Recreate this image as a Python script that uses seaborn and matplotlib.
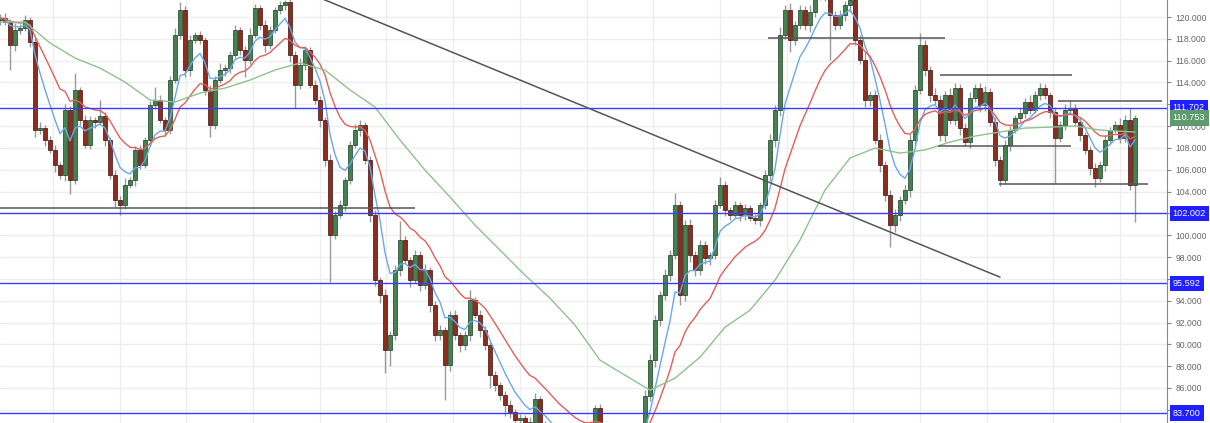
import numpy as np
import pandas as pd
import seaborn as sns
import matplotlib.pyplot as plt
from matplotlib.transforms import blended_transform_factory

# candle closes (open = previous close)
first_open = 119.70
closes = [
    119.91, 119.54, 117.43, 118.81, 118.99, 119.73, 117.71, 109.64, 109.82, 108.72,
    107.81, 106.43, 105.51, 111.47, 105.05, 113.31, 110.56, 108.26, 110.56, 110.37,
    110.92, 108.72, 105.51, 103.22, 102.76, 104.60, 105.05, 107.81, 106.43, 108.72,
    111.93, 112.39, 110.56, 109.64, 114.22, 118.35, 120.64, 115.14, 117.89, 118.35,
    117.89, 113.31, 110.10, 114.22, 115.14, 115.30, 116.52, 118.81, 116.98, 116.06,
    118.35, 120.83, 119.27, 117.43, 118.81, 120.64, 121.10, 121.38, 116.52, 113.77,
    115.60, 116.98, 113.77, 112.39, 110.56, 106.89, 100.01, 101.84, 102.76, 105.05,
    108.26, 109.64, 110.10, 106.89, 101.84, 95.88, 94.51, 89.47, 90.84, 96.80,
    99.55, 97.72, 95.88, 98.18, 95.43, 96.80, 93.59, 90.84, 91.30, 88.09,
    92.67, 90.84, 89.92, 90.84, 94.05, 92.67, 91.30, 89.92, 87.17, 86.26,
    85.34, 84.42, 83.78, 83.05, 83.23, 82.59, 82.86, 85.00, 82.59, 82.31,
    81.40, 81.00, 80.60, 81.00, 80.40, 80.20, 80.70, 81.30, 82.60, 84.20,
    82.00, 81.30, 80.80, 80.40, 80.10, 80.30, 80.90, 81.40, 82.00, 85.30,
    88.55, 92.22, 94.50, 96.34, 98.18, 102.76, 94.51, 100.93, 98.18, 96.80,
    99.09, 97.90, 98.18, 102.76, 104.60, 102.30, 101.84, 102.76, 101.84, 102.49,
    101.57, 101.39, 102.76, 105.51, 108.72, 111.47, 118.35, 120.64, 117.89, 119.27,
    120.64, 119.27, 120.46, 122.00, 122.50, 122.00, 120.18, 119.27, 120.18, 121.10,
    121.56, 117.89, 116.06, 112.39, 112.85, 108.72, 106.43, 103.68, 100.93, 101.84,
    103.22, 104.14, 108.72, 113.31, 117.43, 115.14, 112.85, 112.39, 109.18, 112.85,
    110.56, 113.49, 109.82, 108.54, 112.57, 113.49, 111.93, 113.12, 110.37, 106.89,
    105.05, 108.26, 109.64, 110.74, 111.20, 112.21, 111.47, 112.85, 113.49, 112.85,
    111.29, 108.91, 110.10, 111.47, 111.66, 110.37, 109.18, 107.81, 106.15, 105.24,
    106.43, 108.72, 109.64, 110.10, 108.91, 110.56, 104.60, 110.753,
]
# wick length above / below the body
upper_wick = [
    0.4, 0.5, 0.3, 0.6, 0.4, 0.5, 0.3, 0.4, 0.6, 0.3, 0.4, 0.5, 0.3, 0.6, 0.4, 1.6, 0.3, 0.5, 0.4, 0.3,
    1.5, 0.4, 0.3, 0.5, 0.4, 0.6, 0.3, 0.4, 0.5, 0.3, 0.4, 1.2, 0.5, 0.3, 0.4, 0.6, 0.7, 0.4, 0.5, 0.3,
    0.4, 0.3, 0.5, 0.4, 0.6, 0.3, 0.4, 0.5, 0.3, 0.4, 0.6, 0.4, 0.3, 0.5, 0.4, 0.3, 0.4, 0.2, 0.5, 0.4,
    0.6, 0.4, 0.3, 0.5, 0.4, 0.3, 0.6, 0.4, 0.5, 0.3, 0.4, 0.6, 0.5, 0.3, 0.4, 0.5, 0.3, 0.6, 0.4, 0.5,
    1.8, 0.4, 0.3, 0.5, 0.4, 0.6, 0.3, 0.4, 0.5, 0.3, 0.4, 0.5, 0.3, 0.4, 0.9, 0.3, 0.5, 0.4, 0.3, 0.4,
    0.3, 0.4, 0.5, 0.3, 0.4, 0.3, 0.5, 0.5, 0.3, 0.4, 0.3, 0.4, 0.3, 0.5, 0.4, 0.3, 0.4, 0.3, 0.4, 0.2,
    0.3, 0.4, 0.3, 0.4, 0.3, 0.4, 0.3, 0.4, 0.3, 0.5, 0.6, 0.5, 0.4, 0.6, 0.5, 1.1, 0.4, 0.5, 0.6, 0.4,
    0.5, 0.4, 0.3, 0.5, 0.7, 0.4, 0.3, 0.4, 0.3, 0.4, 0.3, 0.4, 0.3, 0.5, 0.6, 0.5, 0.7, 0.5, 0.6, 0.4,
    0.5, 0.4, 0.6, 0.5, 0.4, 0.5, 0.6, 0.4, 0.5, 0.4, 0.5, 0.6, 0.5, 0.7, 0.4, 0.5, 0.6, 0.4, 0.5, 0.6,
    0.4, 0.5, 0.6, 0.5, 1.1, 0.5, 0.4, 0.6, 0.5, 0.4, 0.6, 0.5, 0.4, 0.5, 0.6, 0.4, 0.5, 0.6, 0.4, 0.5,
    0.4, 0.5, 0.4, 0.3, 0.5, 0.4, 0.6, 0.4, 0.5, 0.4, 0.3, 0.5, 0.4, 0.6, 0.7, 0.4, 0.5, 0.3, 0.4, 0.5,
    0.4, 0.5, 0.3, 0.4, 0.6, 0.5, 1.1, 0.3,
]
lower_wick = [
    0.4, 0.3, 2.3, 0.5, 0.4, 0.3, 0.5, 0.6, 0.4, 0.5, 0.3, 0.6, 0.4, 0.5, 1.3, 0.4, 0.5, 0.3, 0.4, 0.5,
    0.3, 0.5, 0.4, 0.6, 0.9, 0.4, 0.3, 0.5, 0.4, 0.3, 0.5, 0.4, 0.3, 0.5, 0.4, 0.3, 0.4, 0.6, 0.5, 0.3,
    0.4, 0.5, 1.1, 0.4, 0.3, 0.5, 0.4, 0.3, 0.5, 1.6, 0.4, 0.3, 0.5, 0.6, 0.4, 0.3, 0.4, 0.5, 0.6, 2.1,
    0.4, 0.5, 0.3, 0.4, 0.6, 0.5, 4.3, 0.4, 0.3, 0.5, 0.4, 0.3, 0.5, 0.4, 0.6, 0.5, 0.7, 2.1, 1.5, 0.4,
    0.5, 0.4, 0.6, 0.3, 0.5, 0.4, 0.6, 0.5, 0.4, 3.2, 0.5, 0.4, 0.6, 0.4, 0.5, 0.3, 0.6, 0.4, 1.2, 0.5,
    0.4, 1.0, 0.5, 0.4, 0.5, 0.4, 0.5, 0.3, 0.5, 0.4, 0.5, 0.4, 0.5, 0.4, 0.5, 0.4, 0.5, 0.4, 0.5, 0.4,
    0.5, 0.4, 0.5, 0.4, 0.5, 0.4, 0.5, 0.4, 0.5, 0.4, 0.5, 0.6, 0.5, 0.4, 0.5, 0.4, 0.9, 0.5, 0.6, 0.5,
    0.4, 0.5, 0.6, 0.4, 0.3, 0.5, 0.4, 0.3, 0.5, 0.4, 0.3, 0.4, 0.5, 0.4, 0.5, 0.6, 0.5, 0.4, 1.1, 0.5,
    0.4, 0.5, 0.6, 0.5, 0.4, 0.5, 4.1, 0.5, 0.4, 0.5, 0.6, 0.5, 0.4, 0.6, 0.5, 0.4, 0.6, 0.5, 2.0, 0.6,
    0.5, 0.4, 0.6, 0.5, 0.4, 0.5, 0.6, 0.4, 0.5, 0.6, 0.4, 0.5, 0.6, 0.4, 0.5, 0.4, 0.6, 0.5, 0.4, 0.5,
    0.5, 0.4, 0.5, 0.3, 0.4, 0.5, 0.4, 0.3, 0.5, 0.4, 0.5, 4.1, 0.4, 0.5, 0.3, 0.4, 0.5, 0.4, 0.6, 0.8,
    0.4, 0.5, 0.4, 0.3, 0.5, 0.4, 0.5, 3.4,
]

# slow moving average, read every 5 candles
slow_ma_idx = list(range(0, 221, 5)) + [227]
slow_ma = [
    119.54, 119.54, 117.62, 116.24, 115.32, 114.04, 112.39, 112.21, 113.03, 113.49,
    114.22, 115.14, 115.78, 115.14, 113.31, 111.75, 108.72, 105.97, 103.50, 100.93,
    98.64, 96.34, 94.23, 91.76, 88.55, 87.17, 85.80, 86.90, 88.82, 91.57,
    93.13, 95.88, 99.55, 104.14, 107.07, 107.99, 107.53, 107.81, 108.54, 109.09,
    109.46, 109.82, 109.91, 110.01, 109.64, 109.46,
]

# horizontal levels with price tags
levels = [111.702, 102.002, 95.592, 83.700]

# drawn support / resistance segments (candle index from, to, price)
seg_from = [0, 153.6, 188.0, 211.6, 187.6, 199.8]
seg_to = [83.0, 189.0, 214.4, 232.4, 214.2, 229.6]
seg_price = [102.49, 118.07, 114.68, 112.30, 108.17, 104.69]
trend_x = [60, 200]
trend_y = [122.5, 96.16]

df = pd.DataFrame({'close': closes})
df['open'] = [first_open] + closes[:-1]
df['high'] = df[['open', 'close']].max(axis=1) + np.array(upper_wick)
df['low'] = df[['open', 'close']].min(axis=1) - np.array(lower_wick)
df['idx'] = np.arange(len(df))
df['fast'] = df['close'].ewm(span=7, adjust=False).mean()
df['mid'] = df['close'].ewm(span=17, adjust=False).mean()

sns.set_style('white')
plt.rcParams['font.family'] = ['Liberation Sans', 'DejaVu Sans']

fig = plt.figure(figsize=(12.1, 4.23), dpi=100)
ax = fig.add_axes([0, 0, 1167 / 1210, 1])

# grid
yt = np.arange(84, 121, 2)
for y in yt:
    ax.axhline(y, color='#eeeeee', lw=1, zorder=0)
for x in np.arange(10.6, 233, 13.34):
    ax.axvline(x, color='#eeeeee', lw=1, zorder=0)

# candles
ax.vlines(df['idx'], df['low'], df['high'], color='#9a9a9a', lw=1, zorder=2)
up = df['close'] >= df['open']
ax.bar(df['idx'][up], (df['close'] - df['open'])[up], bottom=df['open'][up],
       width=0.7, color='#44834f', edgecolor='#1e3a25', lw=0.5, zorder=3)
ax.bar(df['idx'][~up], (df['close'] - df['open'])[~up], bottom=df['open'][~up],
       width=0.7, color='#8e2c1e', edgecolor='#3a120c', lw=0.5, zorder=3)

# moving averages
sns.lineplot(x=df['idx'], y=df['fast'], ax=ax, color='#6aa8ea', lw=1, zorder=4)
sns.lineplot(x=df['idx'], y=df['mid'], ax=ax, color='#e0605a', lw=1, zorder=4)
sns.lineplot(x=slow_ma_idx, y=slow_ma, ax=ax, color='#8fc28f', lw=1, zorder=4)

# levels and drawings
for lv in levels:
    ax.axhline(lv, color='#3c3cff', lw=1, zorder=5)
ax.hlines(seg_price, seg_from, seg_to, color='#555555', lw=1.1, zorder=5)
ax.plot(trend_x, trend_y, color='#555555', lw=1.1, zorder=5)

ax.set_xlim(0, 233.4)
ax.set_ylim(82.79, 121.56)
ax.set_xlabel('')
ax.set_ylabel('')
ax.set_xticks([])
ax.set_yticks(yt)
# labels hidden behind a price tag are left blank
ax.set_yticklabels(['' if min(abs(v - lv) for lv in levels) < 0.6 else f'{v:.3f}' for v in yt])
ax.yaxis.tick_right()
ax.tick_params(axis='y', length=3, width=0.8, color='#888888', labelsize=6.2,
               labelcolor='#666666', pad=3)
for s in ['top', 'left', 'bottom']:
    ax.spines[s].set_visible(False)
ax.spines['right'].set_color('#888888')
ax.spines['right'].set_linewidth(0.8)

# price tags on the axis
trans = blended_transform_factory(ax.transAxes, ax.transData)
for lv in levels:
    ax.text(1.005, lv, f'{lv:.3f}', transform=trans, ha='left', va='center',
            fontsize=6.6, color='white', clip_on=False, zorder=10,
            bbox=dict(boxstyle='square,pad=0.35', fc='#1f1fff', ec='none'))
ax.text(1.005, closes[-1], f'{closes[-1]:.3f}', transform=trans, ha='left', va='center',
        fontsize=6.6, color='white', clip_on=False, zorder=10,
        bbox=dict(boxstyle='square,pad=0.35', fc='#5e9a6c', ec='none'))

fig.savefig('out.png', dpi=100)
